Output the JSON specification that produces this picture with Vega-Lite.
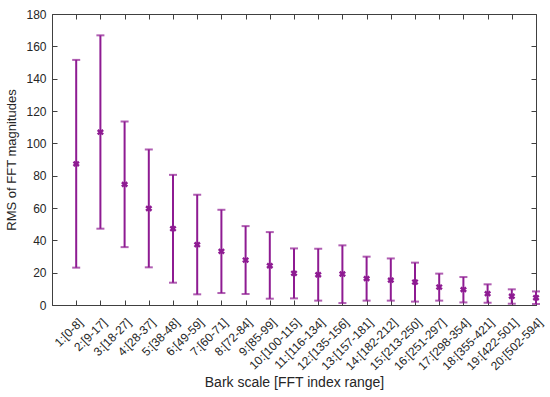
{
  "$schema": "https://vega.github.io/schema/vega-lite/v6.json",
  "width": 484,
  "height": 291,
  "autosize": {"type": "none"},
  "padding": {"left": 52, "top": 14, "right": 14, "bottom": 92},
  "background": "white",
  "config": {
    "view": {"stroke": "#404040", "strokeWidth": 1},
    "font": "Liberation Sans",
    "axis": {
      "labelFont": "Liberation Sans",
      "titleFont": "Liberation Sans",
      "labelColor": "#262626",
      "titleColor": "#262626",
      "domainColor": "#404040",
      "tickColor": "#404040",
      "labelFontSize": 12,
      "titleFontSize": 13,
      "titleFontWeight": "normal",
      "grid": false,
      "tickSize": -5,
      "labelPadding": 11
    }
  },
  "data": {
    "values": [
      {"band": "1:[0-8]", "rms": 87.3, "lo": 23.1, "hi": 151.6},
      {"band": "2:[9-17]", "rms": 106.9, "lo": 47.2, "hi": 166.8},
      {"band": "3:[18-27]", "rms": 74.6, "lo": 35.8, "hi": 113.5},
      {"band": "4:[28-37]", "rms": 59.7, "lo": 23.3, "hi": 96.2},
      {"band": "5:[38-48]", "rms": 47.2, "lo": 13.8, "hi": 80.5},
      {"band": "6:[49-59]", "rms": 37.3, "lo": 6.6, "hi": 68.2},
      {"band": "7:[60-71]", "rms": 33.2, "lo": 7.4, "hi": 58.9},
      {"band": "8:[72-84]", "rms": 27.8, "lo": 6.8, "hi": 48.8},
      {"band": "9:[85-99]", "rms": 24.3, "lo": 3.9, "hi": 45.1},
      {"band": "10:[100-115]", "rms": 19.6, "lo": 4.1, "hi": 35.0},
      {"band": "11:[116-134]", "rms": 18.7, "lo": 2.7, "hi": 34.8},
      {"band": "12:[135-156]", "rms": 19.2, "lo": 1.2, "hi": 36.9},
      {"band": "13:[157-181]", "rms": 16.3, "lo": 2.7, "hi": 29.9},
      {"band": "14:[182-212]", "rms": 15.4, "lo": 2.7, "hi": 28.8},
      {"band": "15:[213-250]", "rms": 14.2, "lo": 2.1, "hi": 26.2},
      {"band": "16:[251-297]", "rms": 11.1, "lo": 2.7, "hi": 19.4},
      {"band": "17:[298-354]", "rms": 9.5, "lo": 1.6, "hi": 17.3},
      {"band": "18:[355-421]", "rms": 7.0, "lo": 1.4, "hi": 12.8},
      {"band": "19:[422-501]", "rms": 5.4, "lo": 0.8, "hi": 9.7},
      {"band": "20:[502-594]", "rms": 4.5, "lo": 0.6, "hi": 8.4}
    ]
  },
  "resolve": {"axis": {"x": "independent", "y": "independent"}},
  "layer": [
    {
      "mark": {"type": "rule", "color": "#8E1B92", "strokeWidth": 2},
      "encoding": {
        "x": {
          "field": "band", "type": "nominal", "sort": null,
          "scale": {"type": "point", "padding": 0, "domain": ["", "1:[0-8]", "2:[9-17]", "3:[18-27]", "4:[28-37]", "5:[38-48]", "6:[49-59]", "7:[60-71]", "8:[72-84]", "9:[85-99]", "10:[100-115]", "11:[116-134]", "12:[135-156]", "13:[157-181]", "14:[182-212]", "15:[213-250]", "16:[251-297]", "17:[298-354]", "18:[355-421]", "19:[422-501]", "20:[502-594]"]},
          "axis": {
            "orient": "bottom",
            "title": "Bark scale [FFT index range]",
            "titleFontSize": 14,
            "labelAngle": -45,
            "labelAlign": "right",
            "labelBaseline": "middle",
            "labelPadding": 20,
            "labelOffset": 4,
            "values": ["1:[0-8]", "2:[9-17]", "3:[18-27]", "4:[28-37]", "5:[38-48]", "6:[49-59]", "7:[60-71]", "8:[72-84]", "9:[85-99]", "10:[100-115]", "11:[116-134]", "12:[135-156]", "13:[157-181]", "14:[182-212]", "15:[213-250]", "16:[251-297]", "17:[298-354]", "18:[355-421]", "19:[422-501]", "20:[502-594]"],
            "titlePadding": 4
          }
        },
        "y": {
          "field": "lo", "type": "quantitative",
          "scale": {"domain": [0, 180], "nice": false},
          "axis": {"orient": "left", "title": "RMS of FFT magnitudes", "values": [0, 20, 40, 60, 80, 100, 120, 140, 160, 180], "titlePadding": 7}
        },
        "y2": {"field": "hi"}
      }
    },
    {
      "mark": {"type": "tick", "color": "#8E1B92", "thickness": 2, "size": 8, "orient": "horizontal"},
      "encoding": {
        "x": {"field": "band", "type": "nominal", "sort": null, "axis": null},
        "y": {"field": "lo", "type": "quantitative", "axis": null}
      }
    },
    {
      "mark": {"type": "tick", "color": "#8E1B92", "thickness": 2, "size": 8, "orient": "horizontal"},
      "encoding": {
        "x": {"field": "band", "type": "nominal", "sort": null, "axis": null},
        "y": {"field": "hi", "type": "quantitative", "axis": null}
      }
    },
    {
      "mark": {"type": "point", "shape": "M-1,-0.8L1,0.8M-1,0.8L1,-0.8", "filled": false, "color": "#8E1B92", "strokeWidth": 2.5, "size": 30, "opacity": 1},
      "encoding": {
        "x": {
          "field": "band", "type": "nominal", "sort": null,
          "axis": {"orient": "top", "title": null, "labels": false, "domain": false, "values": ["1:[0-8]", "2:[9-17]", "3:[18-27]", "4:[28-37]", "5:[38-48]", "6:[49-59]", "7:[60-71]", "8:[72-84]", "9:[85-99]", "10:[100-115]", "11:[116-134]", "12:[135-156]", "13:[157-181]", "14:[182-212]", "15:[213-250]", "16:[251-297]", "17:[298-354]", "18:[355-421]", "19:[422-501]", "20:[502-594]"]}
        },
        "y": {
          "field": "rms", "type": "quantitative",
          "axis": {"orient": "right", "title": null, "labels": false, "domain": false, "values": [0, 20, 40, 60, 80, 100, 120, 140, 160, 180]}
        }
      }
    }
  ]
}
